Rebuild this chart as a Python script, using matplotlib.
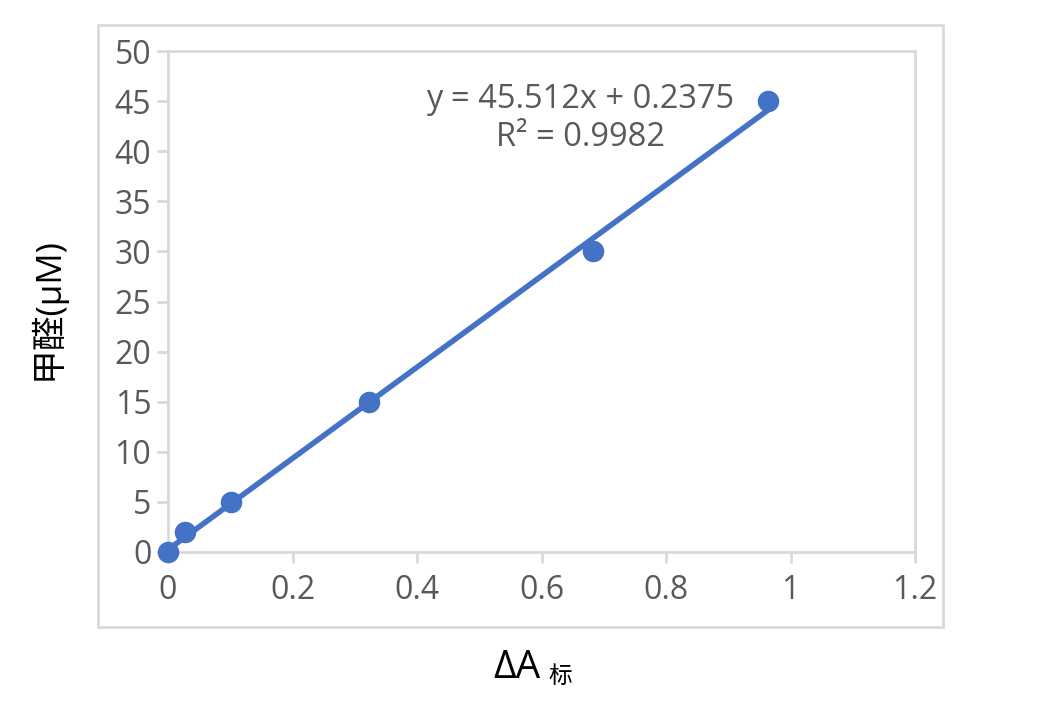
import matplotlib.pyplot as plt
from matplotlib.patches import Rectangle

# standard curve data
delta_a = [0.0, 0.027, 0.101, 0.323, 0.683, 0.964]
formaldehyde = [0, 2, 5, 15, 30, 45]
slope = 45.512
intercept = 0.2375
r_squared = 0.9982
x_ticks = [0, 0.2, 0.4, 0.6, 0.8, 1.0, 1.2]
x_tick_labels = ['0', '0.2', '0.4', '0.6', '0.8', '1', '1.2']
y_ticks = [0, 5, 10, 15, 20, 25, 30, 35, 40, 45, 50]

plt.rcParams['font.family'] = ['Open Sans', 'Noto Sans CJK SC', 'DejaVu Sans']

blue = '#4472C4'
grey = '#D9D9D9'
text_grey = '#595959'

fig = plt.figure(figsize=(10.41, 7.03), dpi=100)
ax = fig.add_axes([168/1041, 1 - 552/703, (915-168)/1041, (552-51)/703])

# outer chart frame
fig.add_artist(Rectangle((98/1041, 1 - 627/703), (943-98)/1041, (627-25)/703,
                         transform=fig.transFigure, fill=False,
                         edgecolor=grey, linewidth=2))

# trendline
x0, x1 = min(delta_a), max(delta_a)
ax.plot([x0, x1], [slope*x0 + intercept, slope*x1 + intercept],
        color=blue, linewidth=4, solid_capstyle='butt', zorder=3, clip_on=False)
ax.plot(delta_a, formaldehyde, 'o', color=blue, markersize=14.5, zorder=4, clip_on=False)

ax.set_xlim(0, 1.2)
ax.set_ylim(0, 50)
ax.set_xticks(x_ticks)
ax.set_xticklabels(x_tick_labels)
ax.set_yticks(y_ticks)

for s in ax.spines.values():
    s.set_color(grey)
    s.set_linewidth(2)
    s.set_zorder(1)

ax.tick_params(axis='both', colors=grey, labelcolor=text_grey, labelsize=23,
               length=8, width=2, direction='out')
ax.tick_params(axis='x', pad=8)
ax.tick_params(axis='y', pad=4)

ax.text(580/1041, 1 - 100/703, f'y = {slope}x + {intercept}', transform=fig.transFigure,
        ha='center', va='center', fontsize=23.5, color=text_grey)
ax.text(580/1041, 1 - 137/703, f'R² = {r_squared}', transform=fig.transFigure,
        ha='center', va='center', fontsize=23.5, color=text_grey)

fig.text(47/1041, 1 - 309/703, '甲醛(μM)', rotation=90, ha='center', va='center',
         fontsize=25, color='black')
fig.text(541/1041, 1 - 668/703, 'ΔA', ha='right', va='center',
         fontsize=28, color='black')
fig.text(548/1041, 1 - 677/703, '标', ha='left', va='center',
         fontsize=17, color='black')

plt.savefig('out.png', dpi=100)
